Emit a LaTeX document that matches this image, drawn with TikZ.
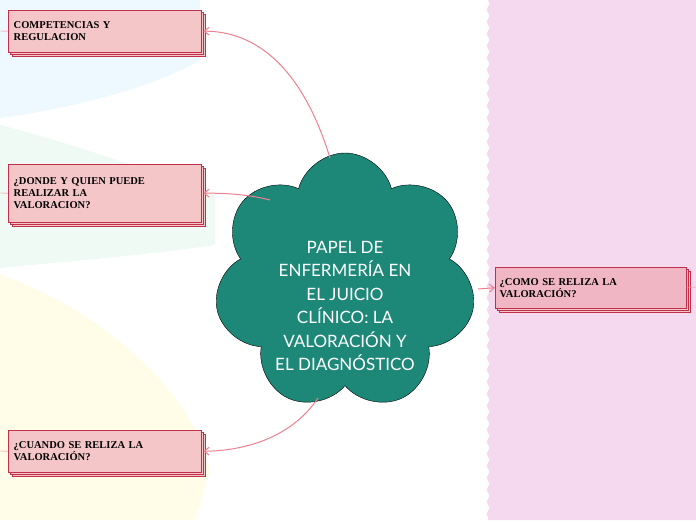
\documentclass[tikz,border=0pt]{standalone}
\usepackage{fontspec}
\setmainfont{Lato}
\newfontfamily\boxfont{Liberation Serif}
\usetikzlibrary{shapes.symbols,decorations.pathmorphing,arrows.meta,shadows}
\definecolor{cloudc}{HTML}{1E8878}
\definecolor{boxf}{HTML}{F4C6C8}
\definecolor{boxf2}{HTML}{F0B6C4}
\definecolor{boxd}{HTML}{C0304A}
\definecolor{linkc}{HTML}{F08090}
\definecolor{panel}{HTML}{F5D9EE}
\tikzset{
 topic/.style={draw=boxd,fill=boxf,minimum width=193pt,align=left,anchor=north west,
   text width=182pt,font=\boxfont\bfseries\fontsize{10.5}{12}\selectfont,inner sep=4pt,
   double copy shadow={shadow xshift=2pt,shadow yshift=-2pt,draw=boxd,fill=boxf}},
 link/.style={draw=linkc,line width=1pt,-{Straight Barb[length=5pt,width=8pt]}},
 wavy/.style={decorate,decoration={snake,amplitude=1.5pt,segment length=12pt}}
}
\begin{document}
\begin{tikzpicture}[x=1pt,y=-1pt]
\useasboundingbox (0,0) rectangle (696,520);
\fill[white] (0,0) rectangle (696,520);
\fill[cyan!7] (0,0) -- (200,0) -- (200,60) .. controls (150,90) and (60,110) .. (0,118) -- cycle;
\fill[green!40!teal!6] (0,125) .. controls (60,140) and (150,170) .. (215,195) -- (215,245) .. controls (150,255) and (60,262) .. (0,268) -- cycle;
\fill[orange!25!yellow!9] (0,275) .. controls (80,300) and (190,380) .. (210,470) -- (195,520) -- (0,520) -- cycle;
\fill[panel] (696,0) -- (488,0) decorate[wavy]{-- (488,520)} -- (696,520) -- cycle;
\node[cloud,cloud puffs=7,aspect=1,draw=black,fill=cloudc,minimum width=262pt,minimum height=258pt,
  label={[text=white,align=center,font=\fontsize{17}{23.5}\selectfont,yshift=-24pt]center:PAPEL DE\\ENFERMERÍA EN\\EL JUICIO\\CLÍNICO: LA\\VALORACIÓN Y\\EL DIAGNÓSTICO}] (c) at (345,282) {};
\node[topic,minimum height=42pt] (b1) at (8,10) {COMPETENCIAS Y\\REGULACION};
\node[topic,minimum height=58pt] (b2) at (8,164) {¿DONDE Y QUIEN PUEDE\\REALIZAR LA\\VALORACION?};
\node[topic,minimum height=42pt] (b3) at (8,430) {¿CUANDO SE RELIZA LA\\VALORACIÓN?};
\node[topic,fill=boxf2,minimum width=191pt,minimum height=41pt] (b4) at (495,267) {¿COMO SE RELIZA LA\\VALORACIÓN?};
\coordinate (c1) at (330,158); \coordinate (c2) at (270,200);
\coordinate (c3) at (318,398); \coordinate (c4) at (478,289);
\draw[link] (c1) .. controls (300,60) and (250,31) .. ([xshift=2pt]b1.east);
\draw[link] (c2) .. controls (250,195) and (230,193) .. ([xshift=2pt]b2.east);
\draw[link] (c3) .. controls (290,440) and (240,451) .. ([xshift=2pt]b3.east);
\draw[link] (c4) -- (b4.west);
\draw[linkc] (0,31) -- (b1.west); \draw[linkc] (0,193) -- (b2.west);
\draw[linkc] (0,451) -- (b3.west); \draw[linkc] (b4.east) -- (696,287);
\end{tikzpicture}
\end{document}
